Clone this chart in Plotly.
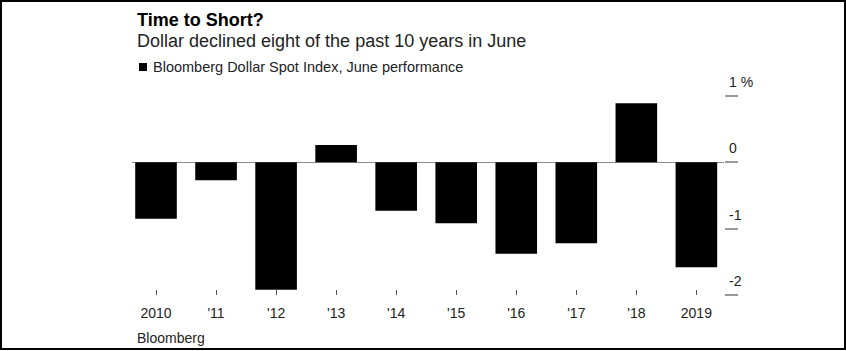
import plotly.graph_objects as go

categories = ["2010", "'11", "'12", "'13", "'14", "'15", "'16", "'17", "'18", "2019"]
values = [-0.85, -0.27, -1.92, 0.26, -0.73, -0.92, -1.38, -1.22, 0.89, -1.58]
ytick_vals = [1, 0, -1, -2]
ytick_text = ["1 %", "0", "-1", "-2"]

W, H = 846, 351
L, R, T, B = 132, 122, 96, 56
PW, PH = W - L - R, H - T - B

def px(x):
    return (x - L) / PW

def py(y):
    return (H - B - y) / PH

FONT = "Liberation Sans, Arial, sans-serif"

fig = go.Figure()
fig.add_trace(go.Bar(x=categories, y=values, marker=dict(color="#000000", line=dict(width=0)),
                     showlegend=False, hoverinfo="x+y"))

fig.update_layout(
    width=W, height=H,
    margin=dict(l=L, r=R, t=T, b=B),
    paper_bgcolor="white", plot_bgcolor="white",
    bargap=0.307,
    font=dict(family=FONT, color="#222222"),
    xaxis=dict(type="category", range=[-0.4, 9.46], showgrid=False, showline=False,
               zeroline=False, ticks="inside", ticklen=5, tickcolor="#555555", tickwidth=1,
               tickfont=dict(size=14, color="#222222"), ticklabelstandoff=8),
    yaxis=dict(range=[-2, 1], side="right", showgrid=False, showline=False,
               zeroline=True, zerolinecolor="#8a8a8a", zerolinewidth=1,
               tickmode="array", tickvals=ytick_vals, ticks="outside", ticklen=13,
               tickcolor="#9a9a9a", tickwidth=1.5, showticklabels=False),
)

for v, t in zip(ytick_vals, ytick_text):
    fig.add_annotation(x=px(727), xref="paper", y=v, yref="y", yshift=14,
                       text=t, showarrow=False, xanchor="left", yanchor="middle",
                       font=dict(size=14, color="#222222"))

fig.add_annotation(x=px(135), xref="paper", y=py(20), yref="paper", text="<b>Time to Short?</b>",
                   showarrow=False, xanchor="left", yanchor="middle",
                   font=dict(size=18, color="#000000"))
fig.add_annotation(x=px(135), xref="paper", y=py(41), yref="paper",
                   text="Dollar declined eight of the past 10 years in June",
                   showarrow=False, xanchor="left", yanchor="middle",
                   font=dict(size=18, color="#222222"))
fig.add_annotation(x=px(151), xref="paper", y=py(67), yref="paper",
                   text="Bloomberg Dollar Spot Index, June performance",
                   showarrow=False, xanchor="left", yanchor="middle",
                   font=dict(size=14.5, color="#222222"))
fig.add_shape(type="rect", xref="paper", yref="paper", x0=px(139), x1=px(147), y0=py(63), y1=py(71),
              fillcolor="#000000", line=dict(width=0))
fig.add_annotation(x=px(135), xref="paper", y=py(338), yref="paper", text="Bloomberg",
                   showarrow=False, xanchor="left", yanchor="middle",
                   font=dict(size=14, color="#222222"))

fig.add_shape(type="rect", xref="paper", yref="paper", x0=px(1), x1=px(845), y0=py(1), y1=py(349),
              line=dict(color="#000000", width=2), fillcolor="rgba(0,0,0,0)", layer="above")

fig.write_html("out.html")
